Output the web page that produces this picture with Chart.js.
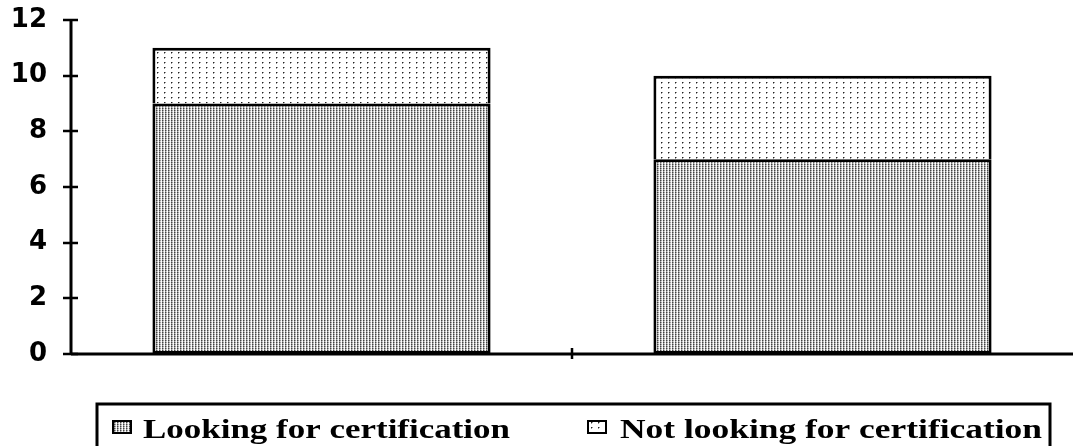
<!DOCTYPE html>
<html>
<head>
<meta charset="utf-8">
<script src="https://cdn.jsdelivr.net/npm/chart.js@4.4.1/dist/chart.umd.min.js"></script>
<style>
  html, body { margin: 0; padding: 0; background: #fff; }
  #wrap { width: 1073px; height: 446px; position: relative; }
</style>
</head>
<body>
<div id="wrap"><canvas id="chart"></canvas></div>
<script>
// Survey groups (not labelled on the axis)
const categories = ['Group A', 'Group B'];
const lookingValues = [9, 7];
const notLookingValues = [2, 3];
const seriesLabels = ['Looking for certification', 'Not looking for certification'];
const yTickValues = [0, 2, 4, 6, 8, 10, 12];

// Fine dense stipple for the lower segment
function densePattern() {
  const c = document.createElement('canvas');
  c.width = 3; c.height = 2;
  const g = c.getContext('2d');
  const px = [['#444', '#999', '#eee'], ['#999', '#ddd', '#fff']];
  px.forEach((row, y) => row.forEach((col, x) => { g.fillStyle = col; g.fillRect(x, y, 1, 1); }));
  return g.createPattern(c, 'repeat');
}
// Sparse dots for the upper segment
function sparsePattern() {
  const c = document.createElement('canvas');
  c.width = 7; c.height = 5;
  const g = c.getContext('2d');
  g.fillStyle = '#fff'; g.fillRect(0, 0, 7, 5);
  g.fillStyle = '#222'; g.fillRect(3, 2, 1, 1);
  g.fillStyle = '#999'; g.fillRect(4, 2, 1, 1); g.fillRect(3, 3, 1, 1);
  return g.createPattern(c, 'repeat');
}

const fills = [densePattern(), sparsePattern()];

// Axis lines and ticks that cross the axis on both sides
const axesPlugin = {
  id: 'crossAxes',
  afterDatasetsDraw(chart) {
    const { ctx, chartArea: a, scales: { x, y } } = chart;
    ctx.save();
    ctx.strokeStyle = '#000';
    ctx.lineCap = 'butt';
    ctx.lineWidth = 3;
    ctx.beginPath();
    ctx.moveTo(a.left, y.getPixelForValue(yTickValues[yTickValues.length - 1]) - 1);
    ctx.lineTo(a.left, a.bottom);
    ctx.moveTo(a.left, a.bottom);
    ctx.lineTo(a.right, a.bottom);
    ctx.stroke();
    ctx.lineWidth = 2.5;
    ctx.beginPath();
    y.ticks.forEach(t => {
      const py = Math.round(y.getPixelForValue(t.value));
      ctx.moveTo(a.left - 8, py);
      ctx.lineTo(a.left + 7, py);
    });
    for (let i = 0; i < categories.length - 1; i++) {
      const px = Math.round((x.getPixelForValue(i) + x.getPixelForValue(i + 1)) / 2);
      ctx.moveTo(px, a.bottom - 6);
      ctx.lineTo(px, a.bottom + 5);
    }
    ctx.stroke();
    ctx.restore();
  }
};

// Boxed legend beneath the plot
const boxLegendPlugin = {
  id: 'boxLegend',
  afterDraw(chart) {
    const ctx = chart.ctx;
    const box = { left: 97, top: 404, right: 1050, bottom: 450 };
    const items = [
      { icon: 113, text: 143, end: 510 },
      { icon: 588, text: 620, end: 1042 }
    ];
    ctx.save();
    ctx.strokeStyle = '#000';
    ctx.lineWidth = 3;
    ctx.strokeRect(box.left, box.top, box.right - box.left, box.bottom - box.top);
    ctx.font = 'bold 28px "Liberation Serif", "DejaVu Serif", serif';
    ctx.textBaseline = 'alphabetic';
    chart.data.datasets.forEach((ds, i) => {
      const it = items[i];
      // icon
      ctx.fillStyle = ds.backgroundColor;
      ctx.fillRect(it.icon, 421, 18, 12);
      ctx.lineWidth = 2;
      ctx.strokeRect(it.icon, 421, 18, 12);
      // text, widened to its slot
      ctx.fillStyle = '#000';
      const label = ds.label;
      const natural = ctx.measureText(label).width;
      const sx = (it.end - it.text) / natural;
      ctx.save();
      ctx.translate(it.text, 438);
      ctx.scale(sx, 1);
      ctx.fillText(label, 0, 0);
      ctx.restore();
    });
    ctx.restore();
  }
};

new Chart(document.getElementById('chart'), {
  type: 'bar',
  data: {
    labels: categories,
    datasets: [
      {
        label: seriesLabels[0],
        data: lookingValues,
        backgroundColor: fills[0],
        borderColor: '#000',
        borderWidth: 3,
        borderSkipped: false
      },
      {
        label: seriesLabels[1],
        data: notLookingValues,
        backgroundColor: fills[1],
        borderColor: '#000',
        borderWidth: 3,
        borderSkipped: 'bottom'
      }
    ]
  },
  options: {
    responsive: true,
    maintainAspectRatio: false,
    animation: false,
    layout: { padding: { top: 20, bottom: 92, left: 0, right: 0 } },
    datasets: { bar: { categoryPercentage: 1, barPercentage: 0.675 } },
    plugins: { legend: { display: false }, tooltip: { enabled: false } },
    scales: {
      x: {
        stacked: true,
        grid: { display: false },
        border: { display: false },
        ticks: { display: false },
        afterFit(s) { s.height = 0; }
      },
      y: {
        stacked: true,
        min: 0,
        max: 12,
        afterBuildTicks(s) { s.ticks = yTickValues.map(v => ({ value: v })); },
        grid: { display: false },
        border: { display: false },
        ticks: {
          color: '#000',
          padding: 16,
          font: { family: '"DejaVu Sans", sans-serif', weight: 'bold', size: 26 }
        },
        afterFit(s) { s.width = 71; s.paddingTop = 0; s.paddingBottom = 0; }
      }
    }
  },
  plugins: [axesPlugin, boxLegendPlugin]
});
</script>
</body>
</html>
